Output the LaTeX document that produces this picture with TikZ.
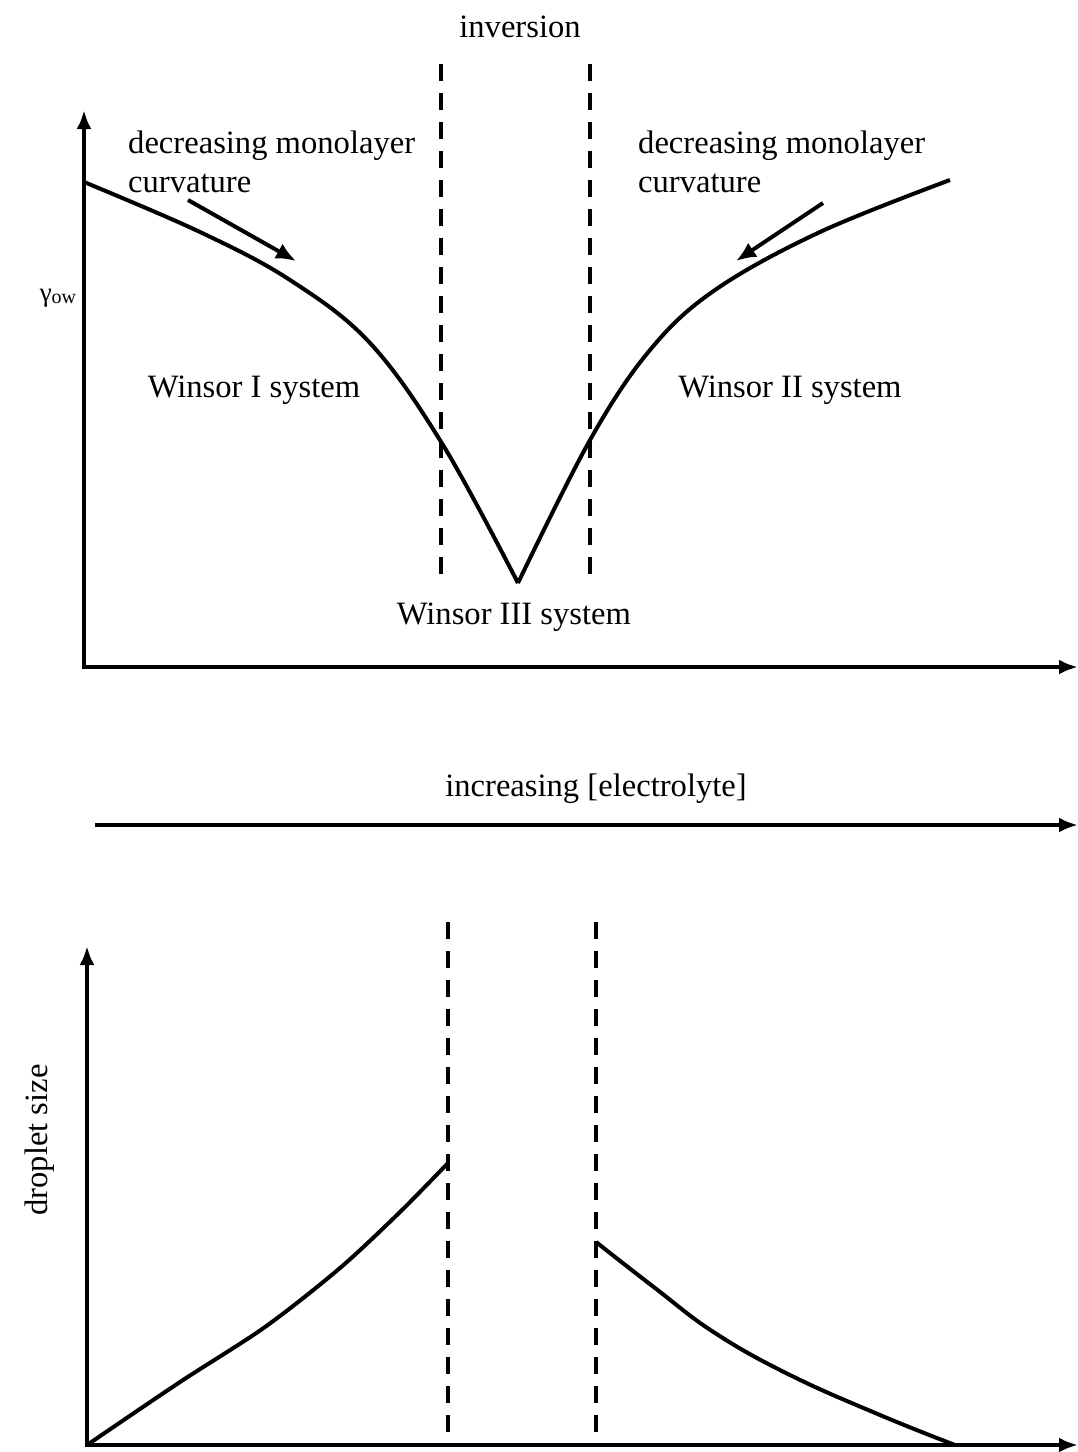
\documentclass[tikz,border=0pt]{standalone}
\usepackage{fontspec}
\setmainfont{Liberation Serif}
\usetikzlibrary{arrows.meta}
\tikzset{
  tip/.tip={Latex[length=19pt,width=15pt]},
  axis/.style={line width=4pt, -tip},
  axes/.style={line width=4pt, tip-tip, line join=miter},
  curve/.style={line width=4pt, line join=round},
  dline/.style={line width=4pt, dash pattern=on 17pt off 12pt},
  smallarrow/.style={line width=4pt, -{Latex[length=20pt,width=17pt]}},
  lbl/.style={font=\fontsize{32.6}{39}\selectfont, inner sep=0pt},
  lbll/.style={font=\fontsize{32.6}{39}\selectfont, inner sep=0pt, align=left, anchor=north west},
}
\begin{document}
\begin{tikzpicture}[x=1pt,y=-1pt]
\useasboundingbox (0,0) rectangle (1078,1452);
% ---- top plot
\coordinate (tO) at (84,667);
\coordinate (tY) at (84,110);
\coordinate (tX) at (1078,667);
\draw[axes] (tY) -- (tO) -- (tX);
\draw[dline] (441,64) -- (441,585);
\draw[dline] (590,64) -- (590,585);
\coordinate (vmin) at (518,583);
\draw[curve] plot[smooth, tension=0.6] coordinates {(84,182) (200,232) (290,280) (370,343) (443,445) (vmin)};
\draw[curve] plot[smooth, tension=0.6] coordinates {(vmin) (590,440) (650,350) (715,290) (820,232) (950,180)};
\coordinate (a1s) at (188,200); \coordinate (a1e) at (296,261);
\coordinate (a2s) at (823,203); \coordinate (a2e) at (736,261);
\draw[smallarrow] (a1s) -- (a1e);
\draw[smallarrow] (a2s) -- (a2e);
\node[lbl] (inv) at (520,27) {inversion};
\node[lbll] (dl) at (128,131) {decreasing monolayer\\curvature};
\node[lbll] (dr) at (638,131) {decreasing monolayer\\curvature};
\node[lbl] (w1) at (254,390) {Winsor I system};
\node[lbl] (w2) at (790,390) {Winsor II system};
\node[lbl] (w3) at (514,617) {Winsor III system};
\node[inner sep=0pt, font=\fontsize{27}{27}\selectfont] (g) at (58,298) {γ\raisebox{-2pt}{\fontsize{20}{20}\selectfont ow}};
% ---- middle arrow
\node[lbl] (inc) at (596,789) {increasing [electrolyte]};
\coordinate (ms) at (95,825); \coordinate (me) at (1078,825);
\draw[axis] (ms) -- (me);
% ---- bottom plot
\coordinate (bO) at (87,1445);
\coordinate (bY) at (87,946);
\coordinate (bX) at (1078,1445);
\draw[axes] (bY) -- (bO) -- (bX);
\draw[dline] (448,922) -- (448,1442);
\draw[dline] (596,922) -- (596,1442);
\draw[curve] plot[smooth, tension=0.5] coordinates {(bO) (180,1382) (265,1327) (340,1268) (400,1212) (448,1163)};
\draw[curve] plot[smooth, tension=0.7] coordinates {(596,1242) (655,1288) (715,1333) (790,1375) (880,1415) (955,1445)};
\node[lbl, rotate=90] (ds) at (40,1140) {droplet size};
\end{tikzpicture}
\end{document}
